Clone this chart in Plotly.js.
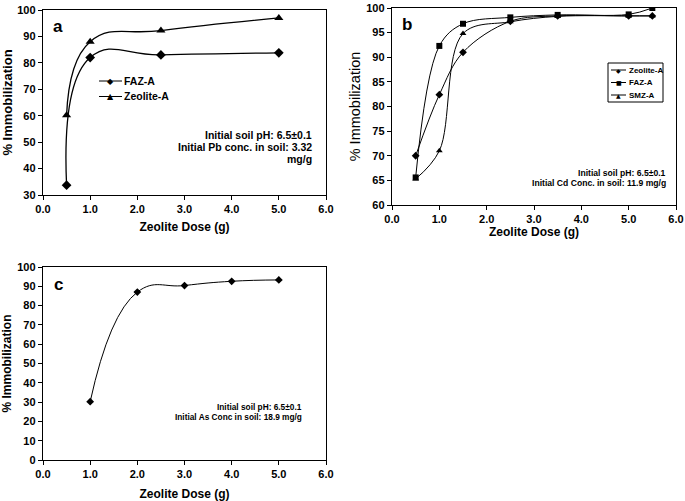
<!DOCTYPE html>
<html><head><meta charset="utf-8">
<script src="https://cdn.plot.ly/plotly-3.0.1.min.js"></script>
<style>body{margin:0;background:#fff}#c{width:685px;height:501px}</style>
</head><body><div id="c"></div>
<script>
// Panel a (Pb)
const doseA = [0.5, 1.0, 2.5, 5.0];
const fazA_a = [33.7, 82.0, 83.0, 83.8];
const zeoA_a = [60.2, 88.0, 92.2, 97.0];
const legendA = ['FAZ-A', 'Zeolite-A'];
const legendAGlyph = ['◆', '▲'];
// Panel b (Cd)
const doseB = [0.5, 1.0, 1.5, 2.5, 3.5, 5.0, 5.5];
const zeoA_b = [70.0, 82.4, 91.0, 97.3, 98.4, 98.4, 98.4];
const fazA_b = [65.6, 92.3, 96.8, 98.1, 98.6, 98.7, 100.0];
const smzA_b = [65.3, 71.0, 94.8, 97.2, 98.3, 98.4, 98.4];
const legendB = ['Zeolite-A', 'FAZ-A', 'SMZ-A'];
const legendBGlyph = ['◆', '■', '▲'];
// Panel c (As)
const doseC = [1.0, 2.0, 3.0, 4.0, 5.0];
const valC = [30.2, 87.0, 90.4, 92.6, 93.3];

const xTickVals = [0,1,2,3,4,5,6];
const xTickText = ['0.0','1.0','2.0','3.0','4.0','5.0','6.0'];
const xTitle = 'Zeolite Dose (g)';
const yTitle = '% Immobilization';
const noteA = ['Initial soil pH: 6.5±0.1', 'Initial Pb conc. in soil: 3.32', 'mg/g'];
const noteB = ['Initial soil pH: 6.5±0.1', 'Initial Cd Conc. in soil: 11.9 mg/g'];
const noteC = ['Initial soil pH: 6.5±0.1', 'Initial As Conc in soil: 18.9 mg/g'];

const W = 685, H = 501;
const px = v => v / W, py = v => 1 - v / H;
const FF = 'Liberation Sans, Arial, sans-serif';

const lineA = {color:'#000', width:1.3, shape:'spline', smoothing:1.3};
const lineB = {color:'#000', width:1, shape:'spline', smoothing:1};
const lineC = {color:'#000', width:1, shape:'spline', smoothing:1.3};
const traces = [
  {x:doseA, y:fazA_a, name:'FAZ-A', mode:'lines+markers', line:lineA, marker:{symbol:'diamond', size:7.5, color:'#000'}, xaxis:'x', yaxis:'y'},
  {x:doseA, y:zeoA_a, name:'Zeolite-A', mode:'lines+markers', line:lineA, marker:{symbol:'triangle-up', size:8, color:'#000'}, xaxis:'x', yaxis:'y'},
  {x:doseB, y:zeoA_b, name:'Zeolite-A', mode:'lines+markers', line:lineB, marker:{symbol:'diamond', size:6, color:'#000'}, xaxis:'x2', yaxis:'y2'},
  {x:doseB, y:fazA_b, name:'FAZ-A', mode:'lines+markers', line:lineB, marker:{symbol:'square', size:6, color:'#000'}, xaxis:'x2', yaxis:'y2'},
  {x:doseB, y:smzA_b, name:'SMZ-A', mode:'lines+markers', line:lineB, marker:{symbol:'triangle-up', size:6, color:'#000'}, xaxis:'x2', yaxis:'y2'},
  {x:doseC, y:valC, name:'As', mode:'lines+markers', line:lineC, marker:{symbol:'diamond', size:6, color:'#000'}, xaxis:'x3', yaxis:'y3'}
];

const tickF = {family:FF, size:11, color:'#000', weight:'bold'};
function xa(dom, anchor, standoff, tsize){
  return {domain:dom, anchor, range:[0,6], tickvals:xTickVals, ticktext:xTickText,
    ticks:'outside', ticklen:4, tickcolor:'#000', showline:true, linecolor:'#000', linewidth:1.2,
    mirror:true, showgrid:false, zeroline:false, tickfont:tickF,
    title:{text:xTitle, font:{family:FF, size:tsize, color:'#000', weight:'bold'}, standoff}};
}
function ya(dom, anchor, range, dtick, standoff, tfont){
  return {domain:dom, anchor, range, dtick, tick0:0,
    ticks:'outside', ticklen:4, tickcolor:'#000', showline:true, linecolor:'#000', linewidth:1.2,
    mirror:true, showgrid:false, zeroline:false, tickfont:tickF,
    title:{text:yTitle, font:tfont, standoff}};
}

const ann = [];
const shapes = [];
function label(t, x, y){
  ann.push({text:'<b>'+t+'</b>', x:px(x), y:py(y), xref:'paper', yref:'paper', xanchor:'center', yanchor:'middle', showarrow:false, font:{family:FF, size:17, color:'#000'}});
}
label('a', 58, 26); label('b', 407, 25); label('c', 58, 284);
function note(lines, xr, y0, dy, size){
  lines.forEach((t, i) => ann.push({text:'<b>'+t+'</b>', x:px(xr), y:py(y0 + i*dy), xref:'paper', yref:'paper', xanchor:'right', yanchor:'middle', showarrow:false, font:{family:FF, size, color:'#000'}}));
}
note(noteA, 314, 135, 12, 10.5);
note(noteB, 668, 173, 10, 8.6);
note(noteC, 304, 407, 10, 8.3);

function legendRows(names, glyphs, x0, x1, xt, y0, dy, gsize, tsize){
  names.forEach((name, i) => {
    const yy = y0 + i*dy;
    shapes.push({type:'line', xref:'paper', yref:'paper', x0:px(x0), x1:px(x1), y0:py(yy), y1:py(yy), line:{color:'#000', width:1}, layer:'above'});
    ann.push({text:glyphs[i], x:px((x0+x1)/2), y:py(yy), xref:'paper', yref:'paper', xanchor:'center', yanchor:'middle', showarrow:false, font:{family:'DejaVu Sans', size:gsize, color:'#000'}});
    ann.push({text:'<b>'+name+'</b>', x:px(xt), y:py(yy), xref:'paper', yref:'paper', xanchor:'left', yanchor:'middle', showarrow:false, font:{family:FF, size:tsize, color:'#000'}});
  });
}
// Legend panel a (no frame)
legendRows(legendA, legendAGlyph, 99, 122, 122, 81, 15.5, 8, 10.5);
// Legend panel b (framed)
shapes.push({type:'rect', xref:'paper', yref:'paper', x0:px(608), x1:px(663), y0:py(63), y1:py(102), line:{color:'#000', width:1}, fillcolor:'#fff', layer:'above'});
legendRows(legendB, legendBGlyph, 611, 626, 627, 70, 12.5, 6, 8);

const layout = {
  width:W, height:H, margin:{l:0,r:0,t:0,b:0}, paper_bgcolor:'#fff', plot_bgcolor:'#fff',
  showlegend:false,
  xaxis: xa([px(43), px(326)], 'y', 8, 12),
  yaxis: ya([py(195), py(10)], 'x', [30,100], 10, 4, {family:FF, size:13, color:'#000', weight:'bold'}),
  xaxis2: xa([px(392), px(676)], 'y2', 2, 12),
  yaxis2: ya([py(205), py(8)], 'x2', [60,100], 5, 2, {family:FF, size:14.5, color:'#000'}),
  xaxis3: xa([px(43), px(326)], 'y3', 10, 12),
  yaxis3: ya([py(460), py(267)], 'x3', [0,100], 10, 5, {family:FF, size:12, color:'#000', weight:'bold'}),
  annotations: ann,
  shapes
};
Plotly.newPlot('c', traces, layout, {staticPlot:true});
</script></body></html>
